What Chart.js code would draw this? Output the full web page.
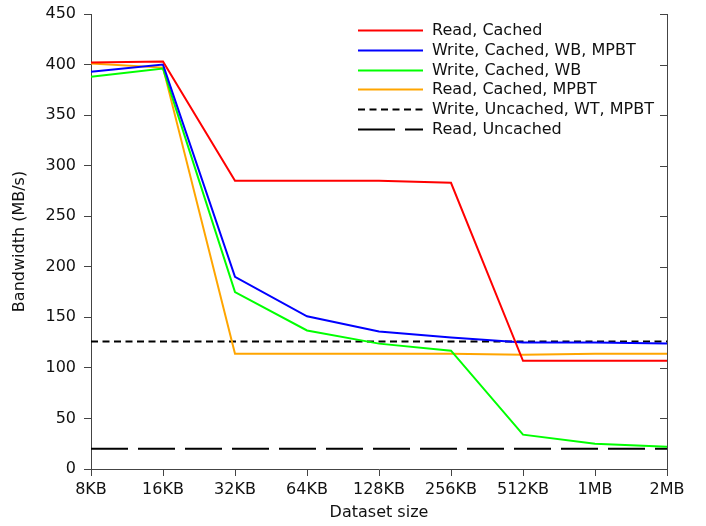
<!DOCTYPE html>
<html>
<head>
<meta charset="utf-8">
<script src="https://cdn.jsdelivr.net/npm/chart.js@4/dist/chart.umd.min.js"></script>
<style>
  html, body { margin: 0; padding: 0; background: #fff; }
  #wrap { width: 706px; height: 526px; }
</style>
</head>
<body>
<div id="wrap"><canvas id="c" width="706" height="526"></canvas></div>
<script>
const categories = ['8KB', '16KB', '32KB', '64KB', '128KB', '256KB', '512KB', '1MB', '2MB'];
const readCached = [402, 403, 285, 285, 285, 283, 107, 107, 107];
const writeCachedWBMPBT = [393, 400, 190, 151, 136, 130, 125, 125, 124];
const writeCachedWB = [388, 396, 175, 137, 124, 117, 34, 25, 22];
const readCachedMPBT = [401, 397, 114, 114, 114, 114, 113, 114, 114];
const writeUncachedWTMPBT = [126, 126, 126, 126, 126, 126, 126, 126, 126];
const readUncached = [20, 20, 20, 20, 20, 20, 20, 20, 20];
const yTicks = [0, 50, 100, 150, 200, 250, 300, 350, 400, 450];

const FONT = 'DejaVu Sans';
const AXIS_COLOR = '#444';

function ds(label, data, color, dash) {
  return {
    label, data,
    borderColor: color, backgroundColor: color,
    borderWidth: 2, borderDash: dash || [],
    pointRadius: 0, tension: 0, fill: false
  };
}

const frame = {
  id: 'frame',
  afterDraw(chart) {
    const ctx = chart.ctx;
    const a = chart.chartArea;
    const y = chart.scales.y;
    ctx.save();
    // right spine with inward ticks
    ctx.strokeStyle = AXIS_COLOR;
    ctx.lineWidth = 1;
    ctx.beginPath();
    ctx.moveTo(Math.round(a.right) + 0.5, a.top);
    ctx.lineTo(Math.round(a.right) + 0.5, a.bottom);
    yTicks.forEach(v => {
      const py = Math.round(y.getPixelForValue(v)) + 0.5;
      ctx.moveTo(Math.round(a.right) + 0.5, py);
      ctx.lineTo(Math.round(a.right) - 7, py);
    });
    ctx.stroke();
    // legend
    const x0 = 358, x1 = 423, tx = 432, y0 = 30, dy = 19.8;
    ctx.font = '16px "' + FONT + '"';
    ctx.textBaseline = 'middle';
    ctx.textAlign = 'left';
    chart.data.datasets.forEach((d, i) => {
      const ly = Math.round(y0 + i * dy) + 0.5;
      ctx.strokeStyle = d.borderColor;
      ctx.lineWidth = d.borderWidth;
      ctx.setLineDash(d.borderDash);
      ctx.beginPath();
      ctx.moveTo(x0, ly);
      ctx.lineTo(x1, ly);
      ctx.stroke();
      ctx.setLineDash([]);
      ctx.fillStyle = '#111';
      ctx.fillText(d.label, tx, ly);
    });
    ctx.restore();
  }
};

new Chart(document.getElementById('c'), {
  type: 'line',
  data: {
    labels: categories,
    datasets: [
      ds('Read, Cached', readCached, '#ff0000'),
      ds('Write, Cached, WB, MPBT', writeCachedWBMPBT, '#0000ff'),
      ds('Write, Cached, WB', writeCachedWB, '#00ff00'),
      ds('Read, Cached, MPBT', readCachedMPBT, '#ffa500'),
      ds('Write, Uncached, WT, MPBT', writeUncachedWTMPBT, '#000000', [7, 4.5]),
      ds('Read, Uncached', readUncached, '#000000', [37, 10])
    ]
  },
  options: {
    responsive: false,
    animation: false,
    devicePixelRatio: 1,
    layout: { padding: { top: 14, right: 39, left: 0, bottom: 0 } },
    plugins: { legend: { display: false }, tooltip: { enabled: false } },
    scales: {
      x: {
        type: 'category',
        offset: false,
        grid: { drawOnChartArea: false, tickLength: 7, color: AXIS_COLOR },
        border: { display: true, color: AXIS_COLOR, width: 1 },
        ticks: { color: '#111', font: { family: FONT, size: 16 }, padding: 4, maxRotation: 0, autoSkip: false },
        title: { display: true, text: 'Dataset size', color: '#111', font: { family: FONT, size: 16 }, padding: { top: 4, bottom: 4 } },
        afterFit(scale) { scale.height = 57; }
      },
      y: {
        min: 0, max: 450,
        afterBuildTicks(scale) { scale.ticks = yTicks.map(v => ({ value: v })); },
        grid: { drawOnChartArea: false, tickLength: 7, color: AXIS_COLOR },
        border: { display: true, color: AXIS_COLOR, width: 1 },
        ticks: { color: '#111', font: { family: FONT, size: 16 }, padding: 8 },
        title: { display: true, text: 'Bandwidth (MB/s)', color: '#111', font: { family: FONT, size: 16 }, padding: { top: 10, bottom: 0 } },
        afterFit(scale) { scale.width = 91; scale.paddingTop = 0; scale.paddingBottom = 0; }
      }
    }
  },
  plugins: [frame]
});
</script>
</body>
</html>
